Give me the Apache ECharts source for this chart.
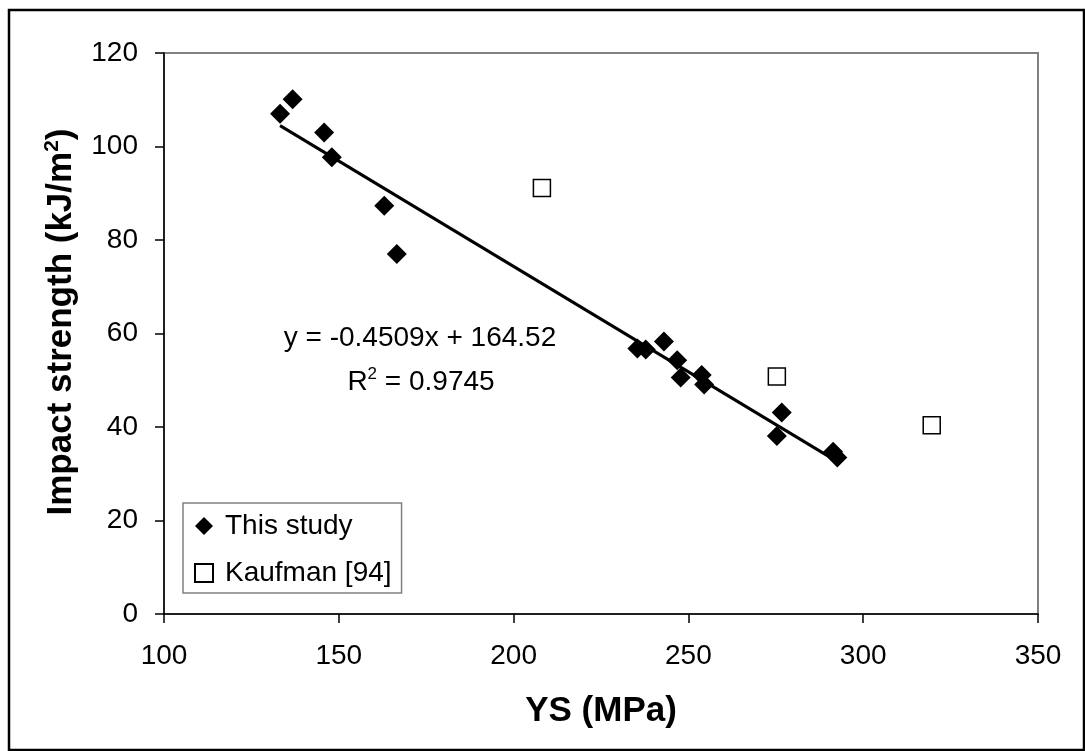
<!DOCTYPE html>
<html>
<head>
<meta charset="utf-8">
<script src="https://cdn.jsdelivr.net/npm/echarts@6/dist/echarts.min.js"></script>
<style>
  html, body { margin: 0; padding: 0; background: #fff; }
  #chart { width: 1085px; height: 751px; }
</style>
</head>
<body>
<div id="chart"></div>
<script>
// Yield strength (MPa) vs impact strength (kJ/m2)
const studyYS = [133.2, 136.8, 145.8, 148.0, 163.0, 166.6, 235.4, 237.8, 243.0, 246.8, 247.8, 253.8, 254.5, 276.7, 275.3, 291.4, 292.6];
const studyIS = [107.0, 110.1, 103.0, 97.7, 87.3, 77.0, 56.8, 56.6, 58.3, 54.3, 50.6, 51.1, 49.1, 43.1, 38.1, 34.7, 33.5];
const kaufmanYS = [208.1, 275.3, 319.6];
const kaufmanIS = [91.1, 50.8, 40.4];

// Linear fit of this study's data
const fitSlope = -0.4509;
const fitIntercept = 164.52;
const fitR2 = 0.9745;

const xTicks = { min: 100, max: 350, interval: 50 };
const yTicks = { min: 0, max: 120, interval: 20 };

const FONT = '"Liberation Sans", Arial, sans-serif';

const studyPts = studyYS.map((x, i) => [x, studyIS[i]]);
const kaufmanPts = kaufmanYS.map((x, i) => [x, kaufmanIS[i]]);
const fitX0 = Math.min(...studyYS);
const fitX1 = Math.max(...studyYS);
const fitPts = [fitX0, fitX1].map(x => [x, fitSlope * x + fitIntercept]);

const chart = echarts.init(document.getElementById('chart'), null, { renderer: 'canvas' });

chart.setOption({
  animation: false,
  backgroundColor: '#fff',
  grid: {
    left: 164, right: 47, top: 53, bottom: 137,
    show: true, borderColor: '#808080', borderWidth: 2, backgroundColor: 'transparent'
  },
  xAxis: {
    type: 'value', min: xTicks.min, max: xTicks.max, interval: xTicks.interval,
    splitLine: { show: false },
    axisLine: { onZero: false, lineStyle: { color: '#000', width: 1.5 } },
    axisTick: { inside: false, length: 9, lineStyle: { color: '#000', width: 1.5 } },
    axisLabel: { color: '#000', fontSize: 28, fontFamily: FONT, margin: 28 }
  },
  yAxis: {
    type: 'value', min: yTicks.min, max: yTicks.max, interval: yTicks.interval,
    splitLine: { show: false },
    axisLine: { onZero: false, lineStyle: { color: '#000', width: 1.5 } },
    axisTick: { inside: false, length: 9, lineStyle: { color: '#000', width: 1.5 } },
    axisLabel: { color: '#000', fontSize: 28, fontFamily: FONT, margin: 26 }
  },
  legend: {
    orient: 'vertical',
    left: 183, top: 503,
    padding: [9, 10, 6, 11],
    itemGap: 19,
    itemWidth: 18, itemHeight: 18,
    backgroundColor: '#fff',
    borderColor: '#808080', borderWidth: 1.5, borderRadius: 0,
    textStyle: { color: '#000', fontSize: 28, fontFamily: FONT, padding: [0, 0, 0, 7] },
    data: [
      { name: 'This study', icon: 'diamond' },
      { name: 'Kaufman [94]', icon: 'rect' }
    ]
  },
  series: [
    {
      name: 'Linear fit', type: 'line', data: fitPts,
      symbol: 'none', silent: true, z: 1,
      lineStyle: { color: '#000', width: 3 }
    },
    {
      name: 'This study', type: 'scatter', data: studyPts,
      symbol: 'diamond', symbolSize: 20, z: 3,
      itemStyle: { color: '#000', opacity: 1 }
    },
    {
      name: 'Kaufman [94]', type: 'scatter', data: kaufmanPts,
      symbol: 'rect', symbolSize: 17, z: 3,
      itemStyle: { color: '#fff', borderColor: '#000', borderWidth: 1.5, opacity: 1 }
    }
  ],
  graphic: [
    {
      type: 'rect', silent: true, z: 100,
      shape: { x: 9, y: 10, width: 1075, height: 740 },
      style: { fill: 'none', stroke: '#000', lineWidth: 2.5 }
    },
    {
      type: 'text', x: 420, y: 338, z: 50,
      style: {
        text: 'y = ' + fitSlope.toFixed(4) + 'x + ' + fitIntercept.toFixed(2),
        fontSize: 28, fontFamily: FONT, fill: '#000',
        align: 'center', verticalAlign: 'middle'
      }
    },
    {
      type: 'text', x: 421, y: 382, z: 50,
      style: {
        text: '{a|R}{s|2}{a| = ' + fitR2.toFixed(4) + '}',
        rich: {
          a: { fontSize: 28, fontFamily: FONT, fill: '#000', color: '#000', lineHeight: 32 },
          s: { fontSize: 17, fontFamily: FONT, fill: '#000', color: '#000', verticalAlign: 'top', lineHeight: 32 }
        },
        align: 'center', verticalAlign: 'middle'
      }
    },
    {
      type: 'text', x: 601, y: 711, z: 50,
      style: {
        text: 'YS (MPa)',
        fontSize: 35, fontWeight: 'bold', fontFamily: FONT, fill: '#000',
        align: 'center', verticalAlign: 'middle'
      }
    },
    {
      type: 'text', x: 61, y: 322, z: 50, rotation: Math.PI / 2,
      style: {
        text: '{a|Impact strength (kJ/m}{s|2}{a|)}',
        rich: {
          a: { fontSize: 35, fontWeight: 'bold', fontFamily: FONT, fill: '#000', color: '#000', lineHeight: 38 },
          s: { fontSize: 21, fontWeight: 'bold', fontFamily: FONT, fill: '#000', color: '#000', verticalAlign: 'top', lineHeight: 38 }
        },
        align: 'center', verticalAlign: 'middle'
      }
    }
  ]
});
</script>
</body>
</html>
